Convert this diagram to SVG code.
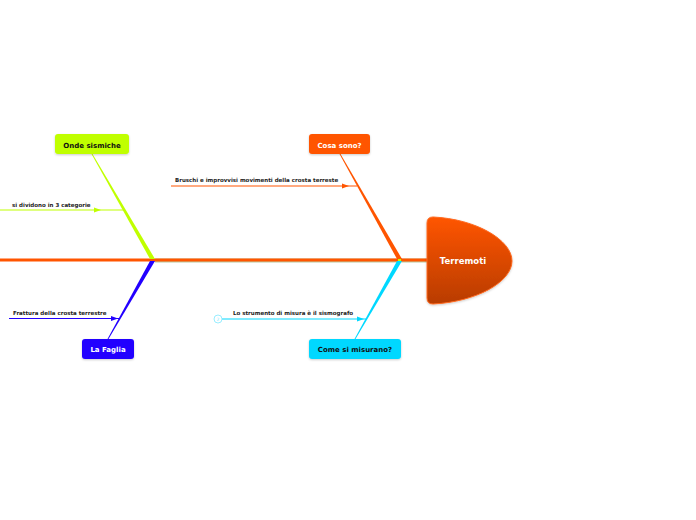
<svg xmlns="http://www.w3.org/2000/svg" width="696" height="520" viewBox="0 0 696 520">
<defs>
<linearGradient id="gMain" x1="0" y1="0" x2="0" y2="1">
<stop offset="0" stop-color="#ff5500"/>
<stop offset="1" stop-color="#b83c00"/>
</linearGradient>
<filter id="sh" x="-20%" y="-20%" width="140%" height="150%">
<feDropShadow dx="0" dy="1" stdDeviation="1" flood-color="#000" flood-opacity="0.2"/>
</filter>
</defs>
<style>
.lbl{font-family:"DejaVu Sans",Verdana,sans-serif;font-weight:bold;font-size:7px;text-anchor:middle}
.sub{font-family:"DejaVu Sans",Verdana,sans-serif;font-weight:bold;font-size:5.5px;fill:#222}
.main{font-family:"DejaVu Sans",Verdana,sans-serif;font-weight:bold;font-size:8.5px;fill:#fff;text-anchor:middle}
</style>
<rect width="696" height="520" fill="#fff"/>
<g id="connectors">
<line x1="155" y1="260.5" x2="428" y2="260.5" stroke="#9cb478" stroke-width="4" stroke-opacity="0.7"/>
<line x1="0" y1="260" x2="428" y2="260" stroke="#ff5500" stroke-width="3"/>
<polygon points="91.5,154 92.5,154 155,259 150,259" fill="#c0ff00"/>
<polygon points="339.5,154 340.5,154 402,259 397,259" fill="#ff5500"/>
<polygon points="150,261 155,261 108.5,339 107.5,339" fill="#2200ff"/>
<polygon points="397,261 402,261 355.5,339 354.5,339" fill="#00d8ff"/>
<rect x="398" y="259" width="3" height="2" fill="#c0ff00"/>
<line x1="0" y1="210" x2="124" y2="210" stroke="#c0ff00" stroke-width="1.2"/>
<polygon points="94,207.5 101,210 94,212.5" fill="#c0ff00"/>
<line x1="171" y1="186" x2="357" y2="186" stroke="#ff5500" stroke-width="1.2"/>
<polygon points="342,183.5 349,186 342,188.5" fill="#ff5500"/>
<line x1="9" y1="318.5" x2="120" y2="318.5" stroke="#2200ff" stroke-width="1.2"/>
<polygon points="111,316 118,318.5 111,321" fill="#2200ff"/>
<line x1="222" y1="319" x2="367" y2="319" stroke="#00d8ff" stroke-width="1.2"/>
<polygon points="357,316.5 364,319 357,321.5" fill="#00d8ff"/>
<circle cx="218" cy="319" r="4" fill="#fff" stroke="#7fe9ff" stroke-width="0.8"/>
<text x="218" y="320.8" font-family="DejaVu Sans,sans-serif" font-size="4.5" fill="#7fe9ff" text-anchor="middle">2</text>
</g>
<g id="sub-labels">
<text class="sub" x="12" y="207">si dividono in 3 categorie</text>
<text class="sub" x="175" y="182">Bruschi e improvvisi movimenti della crosta terreste</text>
<text class="sub" x="13" y="314.5">Frattura della crosta terrestre</text>
<text class="sub" x="233" y="314.5">Lo strumento di misura è il sismografo</text>
</g>
<g id="terremoti">
<path d="M433,217 C476,219 512,240 512,261 C512,282 476,302 433,304 Q427,304 427,298 L427,223 Q427,217 433,217 Z" fill="url(#gMain)" stroke="#ff6a20" stroke-width="1" filter="url(#sh)"/>
<text class="main" x="463" y="264">Terremoti</text>
</g>
<g id="onde-sismiche">
<rect x="55" y="134" width="74" height="20" rx="3" fill="#c0ff00" filter="url(#sh)"/>
<text class="lbl" x="92" y="147.5" fill="#111">Onde sismiche</text>
</g>
<g id="cosa-sono">
<rect x="309" y="134" width="61" height="20" rx="3" fill="#ff5500" filter="url(#sh)"/>
<text class="lbl" x="339.5" y="147.5" fill="#fff">Cosa sono?</text>
</g>
<g id="la-faglia">
<rect x="82" y="339" width="52" height="20" rx="3" fill="#2200ff" filter="url(#sh)"/>
<text class="lbl" x="108" y="352" fill="#fff">La Faglia</text>
</g>
<g id="come-si-misurano">
<rect x="309" y="339" width="92" height="20" rx="3" fill="#00d8ff" filter="url(#sh)"/>
<text class="lbl" x="355" y="352" fill="#111">Come si misurano?</text>
</g>
</svg>
